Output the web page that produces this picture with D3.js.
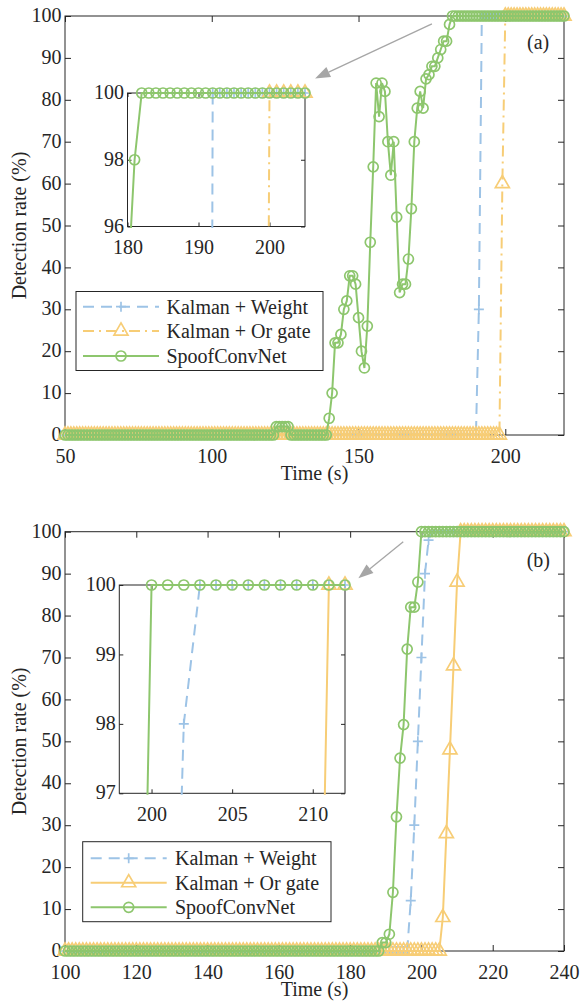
<!DOCTYPE html>
<html lang="en">
<head>
<meta charset="utf-8">
<script src="https://cdn.jsdelivr.net/npm/d3@7"></script>
<style>
  body { margin: 0; background: #fff; }
  svg text { font-family: "Liberation Serif", "Times New Roman", serif; fill: #262626; font-size: 20px; }
</style>
</head>
<body>
<script>
// ---- data (1 s samples) ----
var legendLabels = ["Kalman + Weight", "Kalman + Or gate", "SpoofConvNet"];

// panel (a)
var timeA = [
  50,51,52,53,54,55,56,57,58,59,
  60,61,62,63,64,65,66,67,68,69,
  70,71,72,73,74,75,76,77,78,79,
  80,81,82,83,84,85,86,87,88,89,
  90,91,92,93,94,95,96,97,98,99,
  100,101,102,103,104,105,106,107,108,109,
  110,111,112,113,114,115,116,117,118,119,
  120,121,122,123,124,125,126,127,128,129,
  130,131,132,133,134,135,136,137,138,139,
  140,141,142,143,144,145,146,147,148,149,
  150,151,152,153,154,155,156,157,158,159,
  160,161,162,163,164,165,166,167,168,169,
  170,171,172,173,174,175,176,177,178,179,
  180,181,182,183,184,185,186,187,188,189,
  190,191,192,193,194,195,196,197,198,199,
  200,201,202,203,204,205,206,207,208,209,
  210,211,212,213,214,215,216,217,218,219,
  220
];
var weightA = [
  0,0,0,0,0,0,0,0,0,0,
  0,0,0,0,0,0,0,0,0,0,
  0,0,0,0,0,0,0,0,0,0,
  0,0,0,0,0,0,0,0,0,0,
  0,0,0,0,0,0,0,0,0,0,
  0,0,0,0,0,0,0,0,0,0,
  0,0,0,0,0,0,0,0,0,0,
  0,0,0,0,0,0,0,0,0,0,
  0,0,0,0,0,0,0,0,0,0,
  0,0,0,0,0,0,0,0,0,0,
  0,0,0,0,0,0,0,0,0,0,
  0,0,0,0,0,0,0,0,0,0,
  0,0,0,0,0,0,0,0,0,0,
  0,0,0,0,0,0,0,0,0,0,
  0,30,100,100,100,100,100,100,100,100,
  100,100,100,100,100,100,100,100,100,100,
  100,100,100,100,100,100,100,100,100,100,
  100
];
var orGateA = [
  0,0,0,0,0,0,0,0,0,0,
  0,0,0,0,0,0,0,0,0,0,
  0,0,0,0,0,0,0,0,0,0,
  0,0,0,0,0,0,0,0,0,0,
  0,0,0,0,0,0,0,0,0,0,
  0,0,0,0,0,0,0,0,0,0,
  0,0,0,0,0,0,0,0,0,0,
  0,0,0,0,0,0,0,0,0,0,
  0,0,0,0,0,0,0,0,0,0,
  0,0,0,0,0,0,0,0,0,0,
  0,0,0,0,0,0,0,0,0,0,
  0,0,0,0,0,0,0,0,0,0,
  0,0,0,0,0,0,0,0,0,0,
  0,0,0,0,0,0,0,0,0,0,
  0,0,0,0,0,0,0,0,0,60,
  100,100,100,100,100,100,100,100,100,100,
  100,100,100,100,100,100,100,100,100,100,
  100
];
var spoofA = [
  0,0,0,0,0,0,0,0,0,0,
  0,0,0,0,0,0,0,0,0,0,
  0,0,0,0,0,0,0,0,0,0,
  0,0,0,0,0,0,0,0,0,0,
  0,0,0,0,0,0,0,0,0,0,
  0,0,0,0,0,0,0,0,0,0,
  0,0,0,0,0,0,0,0,0,0,
  0,0,2,2,2,2,2,0,0,0,
  0,0,0,0,0,0,0,0,0,0,
  4,10,22,22,24,30,32,38,38,36,
  28,20,16,26,46,64,84,76,84,82,
  70,62,70,52,34,36,36,42,54,70,
  78,82,78,85,86,88,88,90,92,94,
  94,98,100,100,100,100,100,100,100,100,
  100,100,100,100,100,100,100,100,100,100,
  100,100,100,100,100,100,100,100,100,100,
  100,100,100,100,100,100,100,100,100,100,
  100
];

// panel (b)
var timeB = [
  100,101,102,103,104,105,106,107,108,109,
  110,111,112,113,114,115,116,117,118,119,
  120,121,122,123,124,125,126,127,128,129,
  130,131,132,133,134,135,136,137,138,139,
  140,141,142,143,144,145,146,147,148,149,
  150,151,152,153,154,155,156,157,158,159,
  160,161,162,163,164,165,166,167,168,169,
  170,171,172,173,174,175,176,177,178,179,
  180,181,182,183,184,185,186,187,188,189,
  190,191,192,193,194,195,196,197,198,199,
  200,201,202,203,204,205,206,207,208,209,
  210,211,212,213,214,215,216,217,218,219,
  220,221,222,223,224,225,226,227,228,229,
  230,231,232,233,234,235,236,237,238,239,
  240
];
var weightB = [
  0,0,0,0,0,0,0,0,0,0,
  0,0,0,0,0,0,0,0,0,0,
  0,0,0,0,0,0,0,0,0,0,
  0,0,0,0,0,0,0,0,0,0,
  0,0,0,0,0,0,0,0,0,0,
  0,0,0,0,0,0,0,0,0,0,
  0,0,0,0,0,0,0,0,0,0,
  0,0,0,0,0,0,0,0,0,0,
  0,0,0,0,0,0,0,0,0,0,
  0,0,0,0,0,0,0,12,30,50,
  70,90,98,100,100,100,100,100,100,100,
  100,100,100,100,100,100,100,100,100,100,
  100,100,100,100,100,100,100,100,100,100,
  100,100,100,100,100,100,100,100,100,100,
  100
];
var orGateB = [
  0,0,0,0,0,0,0,0,0,0,
  0,0,0,0,0,0,0,0,0,0,
  0,0,0,0,0,0,0,0,0,0,
  0,0,0,0,0,0,0,0,0,0,
  0,0,0,0,0,0,0,0,0,0,
  0,0,0,0,0,0,0,0,0,0,
  0,0,0,0,0,0,0,0,0,0,
  0,0,0,0,0,0,0,0,0,0,
  0,0,0,0,0,0,0,0,0,0,
  0,0,0,0,0,0,0,0,0,0,
  0,0,0,0,0,0,8,28,48,68,
  88,100,100,100,100,100,100,100,100,100,
  100,100,100,100,100,100,100,100,100,100,
  100,100,100,100,100,100,100,100,100,100,
  100
];
var spoofB = [
  0,0,0,0,0,0,0,0,0,0,
  0,0,0,0,0,0,0,0,0,0,
  0,0,0,0,0,0,0,0,0,0,
  0,0,0,0,0,0,0,0,0,0,
  0,0,0,0,0,0,0,0,0,0,
  0,0,0,0,0,0,0,0,0,0,
  0,0,0,0,0,0,0,0,0,0,
  0,0,0,0,0,0,0,0,0,0,
  0,0,0,0,0,0,0,0,0,2,
  2,4,14,32,46,54,72,82,82,88,
  100,100,100,100,100,100,100,100,100,100,
  100,100,100,100,100,100,100,100,100,100,
  100,100,100,100,100,100,100,100,100,100,
  100,100,100,100,100,100,100,100,100,100,
  100
];

// ticks
var yTicksMain = [0,10,20,30,40,50,60,70,80,90,100];
var xTicksA = [50,100,150,200];
var xTicksInsetA = [180,190,200];
var yTicksInsetA = [96,98,100];
var xTicksB = [100,120,140,160,180,200,220,240];
var xTicksInsetB = [200,205,210];
var yTicksInsetB = [97,98,99,100];

// ---- styling ----
var cBlue = "#9dc3e6", cYellow = "#f7cd76", cGreen = "#8dc66d";
var axisColor = "#262626";
var fmt = d3.format("d");

var svg = d3.select("body").append("svg")
    .attr("width", 581)
    .attr("height", 1002);

var clipId = 0;

function markerPath(type) {
  if (type == "plus") return "M-5,0H5M0,-5V5";
  if (type == "tri") return d3.symbol(d3.symbolTriangle, 85)();
  return d3.symbol(d3.symbolCircle, Math.PI * 25)();
}

function drawMarker(g, type, color, px, py) {
  g.append("path")
    .attr("d", markerPath(type))
    .attr("transform", "translate(" + px + "," + py + ")")
    .attr("fill", "none")
    .attr("stroke", color)
    .attr("stroke-width", 1.7);
}

// draws an axes box with MATLAB style inward ticks and the series
function drawAxes(p, series) {
  var x = d3.scaleLinear().domain(p.xDomain).range([p.left, p.right]);
  var y = d3.scaleLinear().domain(p.yDomain).range([p.bottom, p.top]);
  var g = svg.append("g");

  g.append("rect")
    .attr("x", p.left).attr("y", p.top)
    .attr("width", p.right - p.left).attr("height", p.bottom - p.top)
    .attr("fill", "#fff")
    .attr("stroke", axisColor)
    .attr("stroke-width", 1);

  var axes = [
    [d3.axisBottom(x).tickValues(p.xTicks).tickFormat(fmt).tickPadding(13.5), "translate(0," + p.bottom + ")"],
    [d3.axisTop(x).tickValues(p.xTicks).tickFormat(""), "translate(0," + p.top + ")"],
    [d3.axisLeft(y).tickValues(p.yTicks).tickFormat(fmt).tickPadding(3.5), "translate(" + p.left + ",0)"],
    [d3.axisRight(y).tickValues(p.yTicks).tickFormat(""), "translate(" + p.right + ",0)"]
  ];
  axes.forEach(function(a, k) {
    var ag = g.append("g")
      .attr("transform", a[1])
      .call(a[0].tickSizeInner(-p.tick).tickSizeOuter(0));
    ag.attr("font-size", null).attr("font-family", null);
    ag.select(".domain").remove();
    ag.selectAll("line").attr("stroke", axisColor);
    if (k == 2) ag.selectAll("text").attr("dy", "0.28em");
  });

  clipId++;
  svg.append("clipPath").attr("id", "clip" + clipId)
    .append("rect")
    .attr("x", p.left).attr("y", p.top - 1.5)
    .attr("width", p.right - p.left).attr("height", p.bottom - p.top + 3);

  var line = d3.line()
    .x(function(d) { return x(d[0]); })
    .y(function(d) { return y(d[1]); });

  series.forEach(function(s) {
    var pts = s.time.map(function(t, i) { return [t, s.values[i]]; });
    g.append("path")
      .attr("d", line(pts))
      .attr("clip-path", "url(#clip" + clipId + ")")
      .attr("fill", "none")
      .attr("stroke", s.color)
      .attr("stroke-width", 2)
      .attr("stroke-dasharray", s.dash);
    var mg = g.append("g");
    pts.forEach(function(d) {
      if (d[0] < p.xDomain[0] - 1e-6 || d[0] > p.xDomain[1] + 1e-6) return;
      if (d[1] < p.yDomain[0] - 1e-6 || d[1] > p.yDomain[1] + 1e-6) return;
      drawMarker(mg, s.marker, s.color, x(d[0]), y(d[1]));
    });
  });

  return {x: x, y: y, g: g};
}

function drawLegend(L, series) {
  var g = svg.append("g");
  g.append("rect")
    .attr("x", L.left).attr("y", L.top)
    .attr("width", L.right - L.left).attr("height", L.bottom - L.top)
    .attr("fill", "#fff").attr("stroke", axisColor).attr("stroke-width", 1);
  series.forEach(function(s, i) {
    var yy = L.rows[i];
    g.append("line")
      .attr("x1", L.lineX[0]).attr("x2", L.lineX[1])
      .attr("y1", yy).attr("y2", yy)
      .attr("stroke", s.color).attr("stroke-width", 2)
      .attr("stroke-dasharray", s.dash);
    drawMarker(g, s.marker, s.color, (L.lineX[0] + L.lineX[1]) / 2, yy);
    g.append("text")
      .attr("x", L.textX).attr("y", yy).attr("dy", "0.35em")
      .text(legendLabels[i]);
  });
}

function drawArrow(ax, from, to) {
  var x1 = ax.x(from[0]), y1 = ax.y(from[1]);
  var x2 = ax.x(to[0]), y2 = ax.y(to[1]);
  var ang = Math.atan2(y2 - y1, x2 - x1);
  var len = 15, hw = 5.5;
  var bx = x2 - len * Math.cos(ang), by = y2 - len * Math.sin(ang);
  svg.append("line")
    .attr("x1", x1).attr("y1", y1).attr("x2", bx).attr("y2", by)
    .attr("stroke", "#a6a6a6").attr("stroke-width", 1.3);
  svg.append("path")
    .attr("d", "M" + x2 + "," + y2 +
      "L" + (bx + hw * Math.sin(ang)) + "," + (by - hw * Math.cos(ang)) +
      "L" + (bx - hw * Math.sin(ang)) + "," + (by + hw * Math.cos(ang)) + "Z")
    .attr("fill", "#a6a6a6");
}

function axisLabels(p) {
  svg.append("text")
    .attr("x", (p.left + p.right) / 2).attr("y", p.bottom + 45)
    .attr("text-anchor", "middle")
    .text("Time (s)");
  svg.append("text")
    .attr("transform", "translate(25.5," + (p.top + p.bottom) / 2 + ") rotate(-90)")
    .attr("text-anchor", "middle")
    .text("Detection rate (%)");
}

// ---- panel (a) ----
var seriesA = [
  {time: timeA, values: weightA, color: cBlue, dash: "11,7", marker: "plus"},
  {time: timeA, values: orGateA, color: cYellow, dash: "11,5,2,5", marker: "tri"},
  {time: timeA, values: spoofA, color: cGreen, dash: null, marker: "circle"}
];
var pA = {left: 65, right: 564, top: 16, bottom: 435, xDomain: [50, 220], yDomain: [0, 100],
          xTicks: xTicksA, yTicks: yTicksMain, tick: 6};
var axA = drawAxes(pA, seriesA);
drawAxes({left: 127.5, right: 305, top: 93, bottom: 226.5, xDomain: [180, 205], yDomain: [96, 100],
          xTicks: xTicksInsetA, yTicks: yTicksInsetA, tick: 4}, seriesA);
drawLegend({left: 76, right: 323, top: 291.5, bottom: 370.5, rows: [306.7, 331, 356],
            lineX: [83, 159], textX: 166.5}, seriesA);
drawArrow(axA, [175, 98.1], [135.2, 85.1]);
axisLabels(pA);
svg.append("text")
  .attr("x", axA.x(211.2)).attr("y", axA.y(93.9)).attr("dy", "0.35em")
  .attr("text-anchor", "middle").text("(a)");

// ---- panel (b) ----
var seriesB = [
  {time: timeB, values: weightB, color: cBlue, dash: "11,7", marker: "plus"},
  {time: timeB, values: orGateB, color: cYellow, dash: null, marker: "tri"},
  {time: timeB, values: spoofB, color: cGreen, dash: null, marker: "circle"}
];
var pB = {left: 65, right: 564, top: 531.7, bottom: 951, xDomain: [100, 240], yDomain: [0, 100],
          xTicks: xTicksB, yTicks: yTicksMain, tick: 6};
var axB = drawAxes(pB, seriesB);
drawAxes({left: 119.3, right: 345, top: 585, bottom: 793.3, xDomain: [198, 212], yDomain: [97, 100],
          xTicks: xTicksInsetB, yTicks: yTicksInsetB, tick: 4}, seriesB);
drawLegend({left: 82.7, right: 331, top: 841.7, bottom: 921.7, rows: [858.3, 882.7, 907.3],
            lineX: [90.7, 166.7], textX: 175}, seriesB);
drawArrow(axB, [194.9, 97.6], [182.3, 88.9]);
axisLabels(pB);
svg.append("text")
  .attr("x", axB.x(232.8)).attr("y", axB.y(93.2)).attr("dy", "0.35em")
  .attr("text-anchor", "middle").text("(b)");
</script>
</body>
</html>
